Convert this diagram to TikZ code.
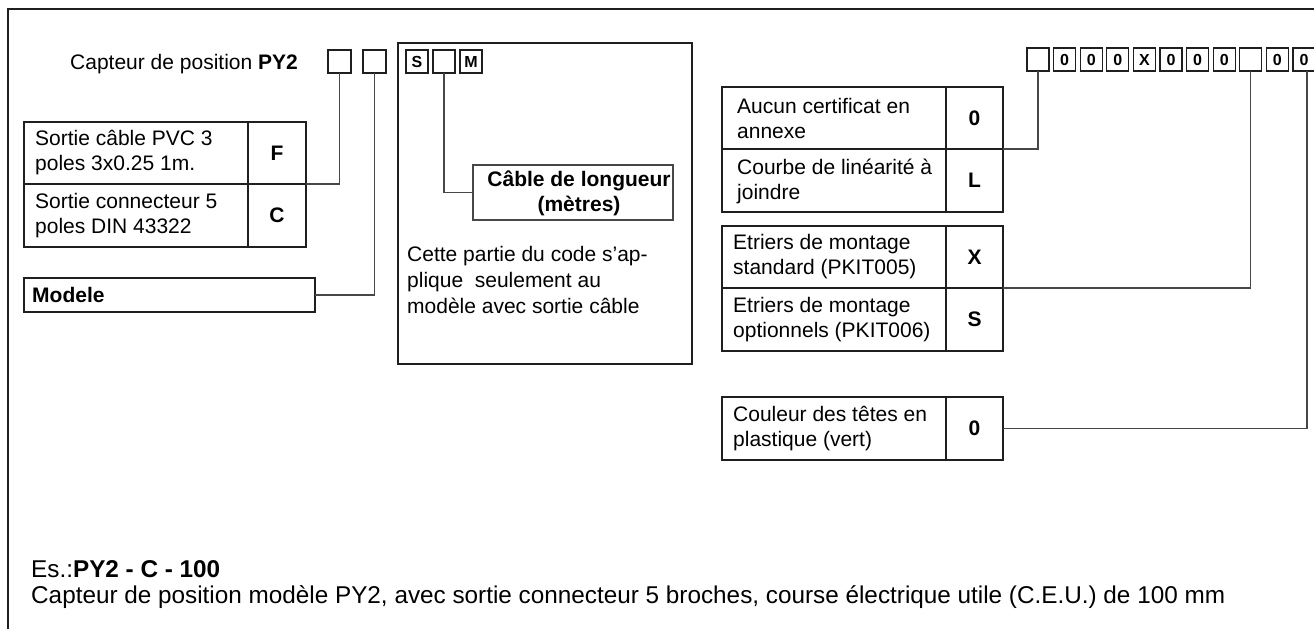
\documentclass[tikz,border=0pt]{standalone}
\usepackage{fontspec}
\setmainfont{Liberation Sans}
\definecolor{linec}{gray}{0.12}
\definecolor{connc}{gray}{0.28}
\begin{document}
\begin{tikzpicture}[x=1pt,y=-1pt,
  cell/.style={draw=linec, line width=1.2pt, inner sep=0pt, outer sep=0pt, anchor=north west},
  sbox/.style={cell, minimum width=22pt, minimum height=23pt, font=\fontsize{16}{18}\selectfont\bfseries},
  txt/.style={inner sep=0pt, anchor=west, align=left, font=\fontsize{21}{25}\selectfont},
  bigtxt/.style={txt, font=\fontsize{24.3}{28}\selectfont},
  code/.style={inner sep=0pt, font=\fontsize{21}{25}\selectfont\bfseries},
  conn/.style={draw=connc, line width=1.2pt}]
\useasboundingbox (0,0) rectangle (1314,629);
\fill[white] (0,0) rectangle (1314,629);
% frame
\draw[linec, line width=1.2pt] (8,629) -- (8,9) -- (1314,9);

% title and first code boxes
\node[txt] (cap) at (70,64) {Capteur de position \textbf{PY2}};
\node[sbox, minimum width=23pt] (cb1) at (328,50) {};
\node[sbox, minimum width=23pt] (cb2) at (363,50) {};

% Sortie table
\node[cell, minimum width=224pt, minimum height=62pt] (sF) at (24,122) {};
\node[cell, minimum width=58pt, minimum height=62pt] (sFc) at (248,122) {};
\node[cell, minimum width=224pt, minimum height=63pt] (sC) at (24,184) {};
\node[cell, minimum width=58pt, minimum height=63pt] (sCc) at (248,184) {};
\node[txt] (tF) at (35,153) {Sortie câble PVC 3\\poles 3x0.25 1m.};
\node[txt] (tC) at (35,216) {Sortie connecteur 5\\poles DIN 43322};
\node[code] (kF) at (sFc.center) {F};
\node[code] (kC) at (sCc.center) {C};

% Modele
\node[cell, minimum width=291pt, minimum height=34pt] (mod) at (24,278) {};
\node[txt, font=\fontsize{21}{25}\selectfont\bfseries] (tmod) at (32,295) {Modele};

\draw[conn] (cb1.south) |- (sFc.south east);
\draw[conn] (cb2.south) |- (mod.east);

% middle box
\node[cell, minimum width=294pt, minimum height=321pt] (big) at (398,43) {};
\node[sbox] (bS) at (406,50) {S};
\node[sbox] (bB) at (433,50) {};
\node[sbox] (bM) at (460,50) {M};
\node[cell, draw=connc, minimum width=200pt, minimum height=55pt] (cab) at (473,165) {};
\node[code, align=center] (tcab) at (579,193) {Câble de longueur\\(mètres)};
\draw[conn] (bB.south) |- (cab.west);
\node[txt, font=\fontsize{21}{26}\selectfont] (tnote) at (407,280) {Cette partie du code s’ap-\\plique~ seulement au\\modèle avec sortie câble};

% right code row
\foreach \i/\t in {1/,2/0,3/0,4/0,5/X,6/0,7/0,8/0,9/,10/0,11/0}
  \node[sbox] (r\i) at ({1027+(\i-1)*26.6},48) {\t};

% Aucun / Courbe
\node[cell, minimum width=224pt, minimum height=62pt] (a1) at (722,87) {};
\node[cell, minimum width=57pt, minimum height=62pt] (a1c) at (946,87) {};
\node[cell, minimum width=224pt, minimum height=63pt] (a2) at (722,149) {};
\node[cell, minimum width=57pt, minimum height=63pt] (a2c) at (946,149) {};
\node[txt] (ta1) at (737,118) {Aucun certificat en\\annexe};
\node[txt] (ta2) at (737,181) {Courbe de linéarité à\\joindre};
\node[code] (ka1) at (a1c.center) {0};
\node[code] (ka2) at (a2c.center) {L};

% Etriers
\node[cell, minimum width=224pt, minimum height=62pt] (e1) at (722,226) {};
\node[cell, minimum width=57pt, minimum height=62pt] (e1c) at (946,226) {};
\node[cell, minimum width=224pt, minimum height=63pt] (e2) at (722,288) {};
\node[cell, minimum width=57pt, minimum height=63pt] (e2c) at (946,288) {};
\node[txt] (te1) at (733,257) {Etriers de montage\\standard (PKIT005)};
\node[txt] (te2) at (733,320) {Etriers de montage\\optionnels (PKIT006)};
\node[code] (ke1) at (e1c.center) {X};
\node[code] (ke2) at (e2c.center) {S};

% Couleur
\node[cell, minimum width=224pt, minimum height=63pt] (co) at (722,397) {};
\node[cell, minimum width=57pt, minimum height=63pt] (coc) at (946,397) {};
\node[txt] (tco) at (733,429) {Couleur des têtes en\\plastique (vert)};
\node[code] (kco) at (coc.center) {0};

\draw[conn] (r1.south) |- (a1c.south east);
\draw[conn] (r9.south) |- (e1c.south east);
\draw[conn] ([xshift=3pt]r11.south) |- (coc.east);

% example
\node[bigtxt] (ex) at (31,569) {Es.:\textbf{PY2 - C - 100}};
\node[bigtxt] (exd) at (31,597) {Capteur de position modèle PY2, avec sortie connecteur 5 broches, course électrique utile (C.E.U.) de 100 mm};
\end{tikzpicture}
\end{document}
